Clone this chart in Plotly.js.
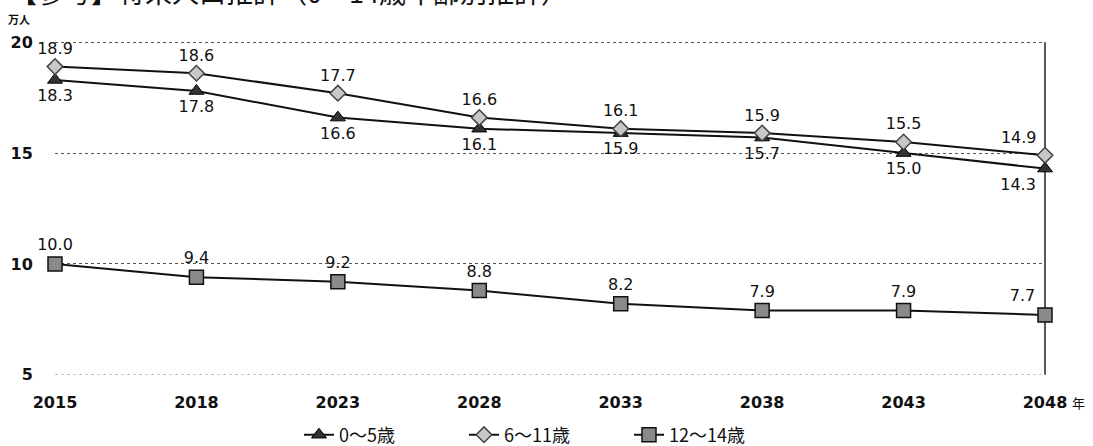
<!DOCTYPE html>
<html>
<head>
<meta charset="utf-8">
<script src="https://cdn.plot.ly/plotly-3.0.1.min.js"></script>
<style>html,body{margin:0;padding:0;background:#fff;}#chart{width:1093px;height:446px;}</style>
</head>
<body>
<div id="chart"></div>
<script>
const years = ['2015','2018','2023','2028','2033','2038','2043','2048'];
const age0to5 = [18.3, 17.8, 16.6, 16.1, 15.9, 15.7, 15.0, 14.3];
const age6to11 = [18.9, 18.6, 17.7, 16.6, 16.1, 15.9, 15.5, 14.9];
const age12to14 = [10.0, 9.4, 9.2, 8.8, 8.2, 7.9, 7.9, 7.7];
const seriesNames = ['0～5歳', '6～11歳', '12～14歳'];
const yTicks = [5, 10, 15, 20];
const yGridDark = [10, 15, 20];
const yRange = [4.9, 20.1];

const labelFont = {family: 'DejaVu Sans', size: 16, color: '#111'};
function pos(base, n) {
  return years.map((_, i) => i === n - 1 ? base + ' left' : base + ' center');
}
const fmt = v => v.toFixed(1);

const traces = [
  {
    x: years, y: age0to5, name: seriesNames[0], type: 'scatter', mode: 'lines+markers+text',
    line: {color: '#111', width: 2},
    marker: {symbol: 'triangle-up', size: 13, color: '#333', line: {color: '#000', width: 1}},
    text: age0to5.map(fmt), textposition: pos('bottom', years.length), textfont: labelFont,
    cliponaxis: false
  },
  {
    x: years, y: age6to11, name: seriesNames[1], type: 'scatter', mode: 'lines+markers+text',
    line: {color: '#111', width: 2},
    marker: {symbol: 'diamond', size: 12, color: '#c8c8c8', line: {color: '#444', width: 1.5}},
    text: age6to11.map(fmt), textposition: pos('top', years.length), textfont: labelFont,
    cliponaxis: false
  },
  {
    x: years, y: age12to14, name: seriesNames[2], type: 'scatter', mode: 'lines+markers+text',
    yaxis: 'y2',
    line: {color: '#111', width: 2},
    marker: {symbol: 'square', size: 14, color: '#8a8a8a', line: {color: '#111', width: 1.5}},
    text: age12to14.map(fmt), textposition: pos('top', years.length), textfont: labelFont,
    cliponaxis: false
  }
];

const layout = {
  width: 1093, height: 446,
  margin: {l: 55, r: 48, t: 40, b: 69},
  paper_bgcolor: '#fff', plot_bgcolor: '#fff',
  font: {family: 'DejaVu Sans', color: '#111'},
  xaxis: {
    type: 'category', range: [0, years.length - 1],
    showgrid: false, zeroline: false, showline: false,
    ticks: 'outside', ticklen: 11, tickcolor: 'rgba(0,0,0,0)',
    tickfont: {family: 'DejaVu Sans', size: 16, color: '#111', weight: 'bold'},
    fixedrange: true
  },
  yaxis: {
    range: yRange, tickvals: yTicks,
    showgrid: true, gridcolor: '#c4c4c4', griddash: 'dot', gridwidth: 1,
    zeroline: false, showline: false,
    ticks: 'outside', ticklen: 18, tickcolor: 'rgba(0,0,0,0)',
    tickfont: {family: 'DejaVu Sans', size: 16, color: '#111', weight: 'bold'}
  },
  yaxis2: {
    overlaying: 'y', side: 'right', range: yRange, tickvals: yGridDark,
    showline: false,
    showgrid: true, gridcolor: '#555', griddash: 'dot', gridwidth: 1,
    zeroline: false, showticklabels: false, ticks: ''
  },
  shapes: [
    {type: 'line', xref: 'paper', yref: 'y2', x0: 1, x1: 1, y0: yTicks[0], y1: yTicks[yTicks.length - 1],
     line: {color: '#222', width: 1.5}, layer: 'below'}
  ],
  showlegend: true,
  legend: {
    orientation: 'h', x: 0.5, xanchor: 'center', xref: 'container',
    y: 11/446, yanchor: 'middle', yref: 'container',
    font: {family: 'Noto Sans CJK JP', size: 18, color: '#111'},
    itemwidth: 30, entrywidth: 120, traceorder: 'normal'
  },
  annotations: [
    {text: '万人', xref: 'paper', yref: 'paper', x: -0.05, y: 1 + 21/337, xanchor: 'left', yanchor: 'middle',
     showarrow: false, font: {family: 'Noto Sans CJK JP', size: 11, color: '#111', weight: 'bold'}},
    {text: '年', xref: 'paper', yref: 'paper', x: 1, xshift: 33, y: -25/337, xanchor: 'center', yanchor: 'middle',
     showarrow: false, font: {family: 'Noto Sans CJK JP', size: 13, color: '#111'}},
    {text: '【参考】将来人口推計（0～14歳年齢別推計）', xref: 'paper', yref: 'paper', x: -0.05, xshift: 2, y: 1 + 48/337,
     xanchor: 'left', yanchor: 'middle', showarrow: false,
     font: {family: 'Noto Sans CJK JP', size: 27, color: '#111'}}
  ]
};

Plotly.newPlot('chart', traces, layout, {displayModeBar: false, staticPlot: true});
</script>
</body>
</html>
